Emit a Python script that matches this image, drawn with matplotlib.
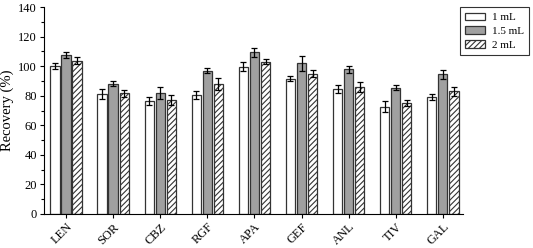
import numpy as np
import matplotlib.pyplot as plt

drugs = ['LEN', 'SOR', 'CBZ', 'RGF', 'APA', 'GEF', 'ANL', 'TIV', 'GAL']
vol_labels = ['1 mL', '1.5 mL', '2 mL']

rec_1ml = [100.0, 81.0, 76.5, 80.5, 99.5, 91.5, 84.5, 72.7, 79.0]
rec_15ml = [107.5, 88.2, 81.8, 97.0, 109.5, 101.8, 97.8, 85.5, 94.5]
rec_2ml = [103.8, 81.5, 77.3, 87.8, 103.0, 95.0, 86.0, 74.9, 82.9]

err_1ml = [2.0, 3.5, 2.5, 2.5, 3.0, 1.5, 2.5, 3.5, 2.0]
err_15ml = [2.0, 1.5, 4.0, 1.5, 3.0, 5.0, 2.5, 1.5, 3.0]
err_2ml = [2.5, 2.5, 3.5, 4.0, 1.5, 2.5, 3.5, 2.0, 3.0]

plt.rcParams['font.family'] = 'Liberation Serif'
plt.rcParams['hatch.linewidth'] = 0.8

fig = plt.figure(figsize=(5.33, 2.48), dpi=100)
ax = fig.add_axes([44 / 533, 34 / 248, (463 - 44) / 533, (214 - 7) / 248])

x = np.arange(len(drugs))
w = 0.2
off = 0.235
ekw = dict(ecolor='black', elinewidth=0.9, capsize=2.5, capthick=0.9)
ax.bar(x - off, rec_1ml, w, yerr=err_1ml, color='white', edgecolor='#333333',
       linewidth=0.9, label=vol_labels[0], error_kw=ekw)
ax.bar(x, rec_15ml, w, yerr=err_15ml, color='#a0a0a0', edgecolor='#333333',
       linewidth=0.9, label=vol_labels[1], error_kw=ekw)
ax.bar(x + off, rec_2ml, w, yerr=err_2ml, color='white', edgecolor='#333333',
       hatch='//////', linewidth=0.9, label=vol_labels[2], error_kw=ekw)

ax.set_xlim(-0.47, 8.43)
ax.set_ylim(0, 140)
ax.set_yticks(np.arange(0, 141, 20))
ax.set_yticks(np.arange(10, 141, 20), minor=True)
ax.set_xticks(x)
ax.set_xticklabels(drugs, rotation=45, ha='right', rotation_mode='anchor')
ax.tick_params(axis='both', labelsize=9, direction='out', length=3, width=0.8,
               pad=2)
ax.tick_params(axis='y', which='minor', length=2, width=0.8)
ax.set_ylabel('Recovery (%)', fontsize=10.5, labelpad=3)

for s in ['top', 'right']:
    ax.spines[s].set_visible(False)
for s in ['left', 'bottom']:
    ax.spines[s].set_linewidth(0.8)

leg = ax.legend(loc='upper left', bbox_to_anchor=(0.992, 1.0), fontsize=8,
                frameon=True, fancybox=False, edgecolor='black',
                borderaxespad=0, handlelength=1.8, handleheight=0.7,
                borderpad=0.5, labelspacing=0.35, handletextpad=0.6)
leg.get_frame().set_linewidth(0.8)

fig.savefig('out.png', dpi=100)
